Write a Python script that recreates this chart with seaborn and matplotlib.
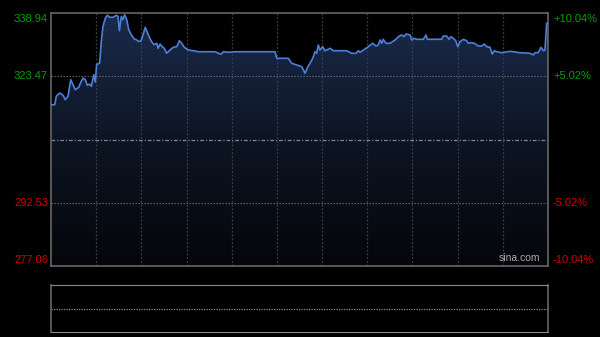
import numpy as np
import pandas as pd
import matplotlib
matplotlib.use("Agg")
import matplotlib.pyplot as plt
import matplotlib.transforms as mtransforms
from matplotlib.colors import LinearSegmentedColormap
import seaborn as sns

# ---- data (HK session, minutes from 09:30, lunch at 150) ----
minutes = [0, 2.5, 3.5, 5.8, 8.0, 9.5, 11.3, 13.1, 14.6, 16.1, 18.4, 20.1, 21.4, 22.8, 24.1,
           25.7, 26.8, 28.4, 29.4, 30.3, 32.3, 33.4, 34.5, 36.1, 37.4, 39.0, 41.2, 43.4, 44.5,
           45.4, 46.7, 47.8, 48.9, 50.3, 51.6, 53.3, 55.1, 56.6, 58.2, 59.6, 60.6, 62.6, 64.4,
           66.6, 68.4, 70.2, 71.2, 72.4, 73.9, 75.2, 76.8, 79.0, 81.2, 83.5, 85.2, 86.8, 88.5,
           91.2, 94.5, 97.8, 108.9, 112.9, 114.4, 117.7, 122.2, 128.8, 135.5, 148.7, 149.9,
           157.6, 159.8, 163.1, 166.5, 168.7, 170.5, 172.0, 173.8, 175.3, 176.4, 177.5, 178.6,
           180.4, 181.9, 184.1, 185.3, 187.4, 196.3, 199.6, 202.5, 204.0, 205.2, 207.4, 210.7,
           213.6, 215.8, 217.3, 218.5, 219.6, 220.6, 222.4, 225.1, 228.4, 231.3, 232.9, 234.4,
           235.7, 238.4, 239.5, 241.0, 242.8, 247.2, 249.0, 249.9, 259.4, 260.5, 262.7, 264.3,
           265.6, 267.1, 268.7, 270.1, 271.6, 273.8, 276.0, 277.1, 278.9, 281.1, 283.7, 286.0,
           287.7, 289.3, 291.5, 293.0, 294.4, 295.9, 299.3, 304.8, 311.4, 318.1, 320.3, 321.4,
           323.5, 325.4, 326.9, 328.0, 329.1, 330.0]
prices = [316.51, 316.51, 318.57, 319.37, 318.81, 317.74, 318.57, 322.63, 321.40, 320.18, 320.77,
          322.24, 323.04, 322.63, 321.26, 321.57, 321.01, 323.85, 322.06, 326.30, 326.71, 332.02,
          335.69, 337.72, 338.38, 337.89, 337.89, 338.38, 338.13, 334.61, 338.13, 337.30, 338.52,
          337.30, 334.86, 333.63, 332.65, 332.41, 332.02, 332.02, 333.00, 335.44, 333.80, 332.02,
          331.19, 331.53, 330.31, 331.36, 330.70, 330.31, 329.08, 329.89, 330.55, 330.70, 332.17,
          331.53, 330.55, 329.89, 329.72, 329.47, 329.47, 328.84, 329.47, 329.33, 329.47, 329.47,
          329.47, 329.47, 327.86, 327.86, 326.64, 326.22, 325.81, 324.19, 325.81, 326.64, 327.86,
          329.47, 329.08, 331.11, 329.89, 330.70, 329.72, 330.06, 330.31, 329.72, 329.72, 329.08,
          329.08, 329.72, 329.33, 329.89, 330.70, 331.53, 330.87, 331.11, 332.34, 331.53, 332.51,
          331.53, 331.53, 332.34, 333.31, 333.56, 333.14, 333.80, 333.56, 332.34, 332.75, 332.51,
          332.51, 333.56, 332.51, 332.51, 333.31, 333.31, 332.51, 333.14, 332.75, 332.17, 330.70,
          331.92, 332.51, 332.17, 331.53, 331.68, 331.53, 330.87, 330.87, 331.36, 330.70, 330.55,
          328.91, 329.72, 329.47, 329.23, 329.57, 329.23, 329.08, 328.67, 329.23, 329.23, 330.55,
          329.72, 329.89, 336.42, 336.42]

prev_close = 308.00
y_levels = [338.94, 323.47, 292.53, 277.06]
left_labels = ["338.94", "323.47", "292.53", "277.06"]
right_labels = ["+10.04%", "+5.02%", "-5.02%", "-10.04%"]
label_colors = ["#00a000", "#00a000", "#d00000", "#d00000"]
session_len = 330
grid_step = 30

df = pd.DataFrame({"minute": minutes, "price": prices})

sns.set_style("dark")
plt.rcParams["font.family"] = ["Liberation Sans", "DejaVu Sans"]

W, H = 600, 337
fig = plt.figure(figsize=(W / 100, H / 100), dpi=100, facecolor="black")
ax = fig.add_axes([51 / W, 1 - 266 / H, 497 / W, 253 / H])
ax2 = fig.add_axes([51 / W, 1 - 332 / H, 497 / W, 47 / H])

ymin, ymax = y_levels[-1], y_levels[0]
for a in (ax, ax2):
    a.set_facecolor("black")
    a.set_xlim(0, session_len)
    a.set_xticks([])
    a.set_yticks([])
    a.grid(False)

ax.set_ylim(ymin, ymax)

# gradient fill under line
cmap = LinearSegmentedColormap.from_list("fillg", ["#04060a", "#0d1524", "#1b2b4c"])
grad = np.linspace(0, 1, 256).reshape(-1, 1)
im = ax.imshow(grad, extent=[0, session_len, ymin, ymax], origin="lower", aspect="auto",
               cmap=cmap, zorder=1)
poly = ax.fill_between(df["minute"], df["price"], ymin, color="none", lw=0)
im.set_clip_path(poly.get_paths()[0], transform=ax.transData)

# grid
for m in range(grid_step, session_len, grid_step):
    ax.axvline(m, color="#3a3d42", lw=0.9, ls=(0, (1.5, 1.5)), zorder=2)
for lv in (y_levels[1], y_levels[2]):
    ax.axhline(lv, color="#6a6d72", lw=0.8, ls=(0, (1.2, 1.5)), zorder=2)
ax.axhline(prev_close, color="#7d8896", lw=0.9, ls=(0, (3, 1.5, 1, 1.5)), zorder=2)

sns.lineplot(data=df, x="minute", y="price", ax=ax, color="#4d7fd6", lw=1.2, zorder=4,
             legend=False)
ax.set_xlabel("")
ax.set_ylabel("")

for s in ax.spines.values():
    s.set_color("#666666")
    s.set_linewidth(1.2)
    s.set_visible(True)

# axis labels
offsets = [-6, 0, 0, 6]
for lv, ll, rl, c, off in zip(y_levels, left_labels, right_labels, label_colors, offsets):
    tr = mtransforms.offset_copy(ax.get_yaxis_transform(), fig=fig, x=0, y=off * 0.72, units="points")
    ax.text(-0.006, lv, ll, transform=tr, ha="right", va="center", color=c, fontsize=8)
    ax.text(1.01, lv, rl, transform=tr, ha="left", va="center", color=c, fontsize=8)

ax.text(0.985, 0.012, "sina.com", transform=ax.transAxes, ha="right", va="bottom",
        color="#aaaaaa", fontsize=7.5, zorder=5)

# lower (volume) panel
ax2.set_ylim(0, 2)
ax2.axhline(1, color="#8a8a8a", lw=0.9, ls=(0, (1, 1)))
ax2.spines["top"].set_visible(True)
ax2.spines["top"].set_color("#8a8a8a")
ax2.spines["top"].set_linestyle((0, (1, 1)))
ax2.spines["bottom"].set_color("#8a8a8a")
ax2.spines["bottom"].set_linestyle((0, (1, 1)))
for side in ("left", "right"):
    ax2.spines[side].set_color("#666666")
    ax2.spines[side].set_linewidth(1.2)
    ax2.spines[side].set_visible(True)

fig.savefig("out.png", dpi=100, facecolor="black")
